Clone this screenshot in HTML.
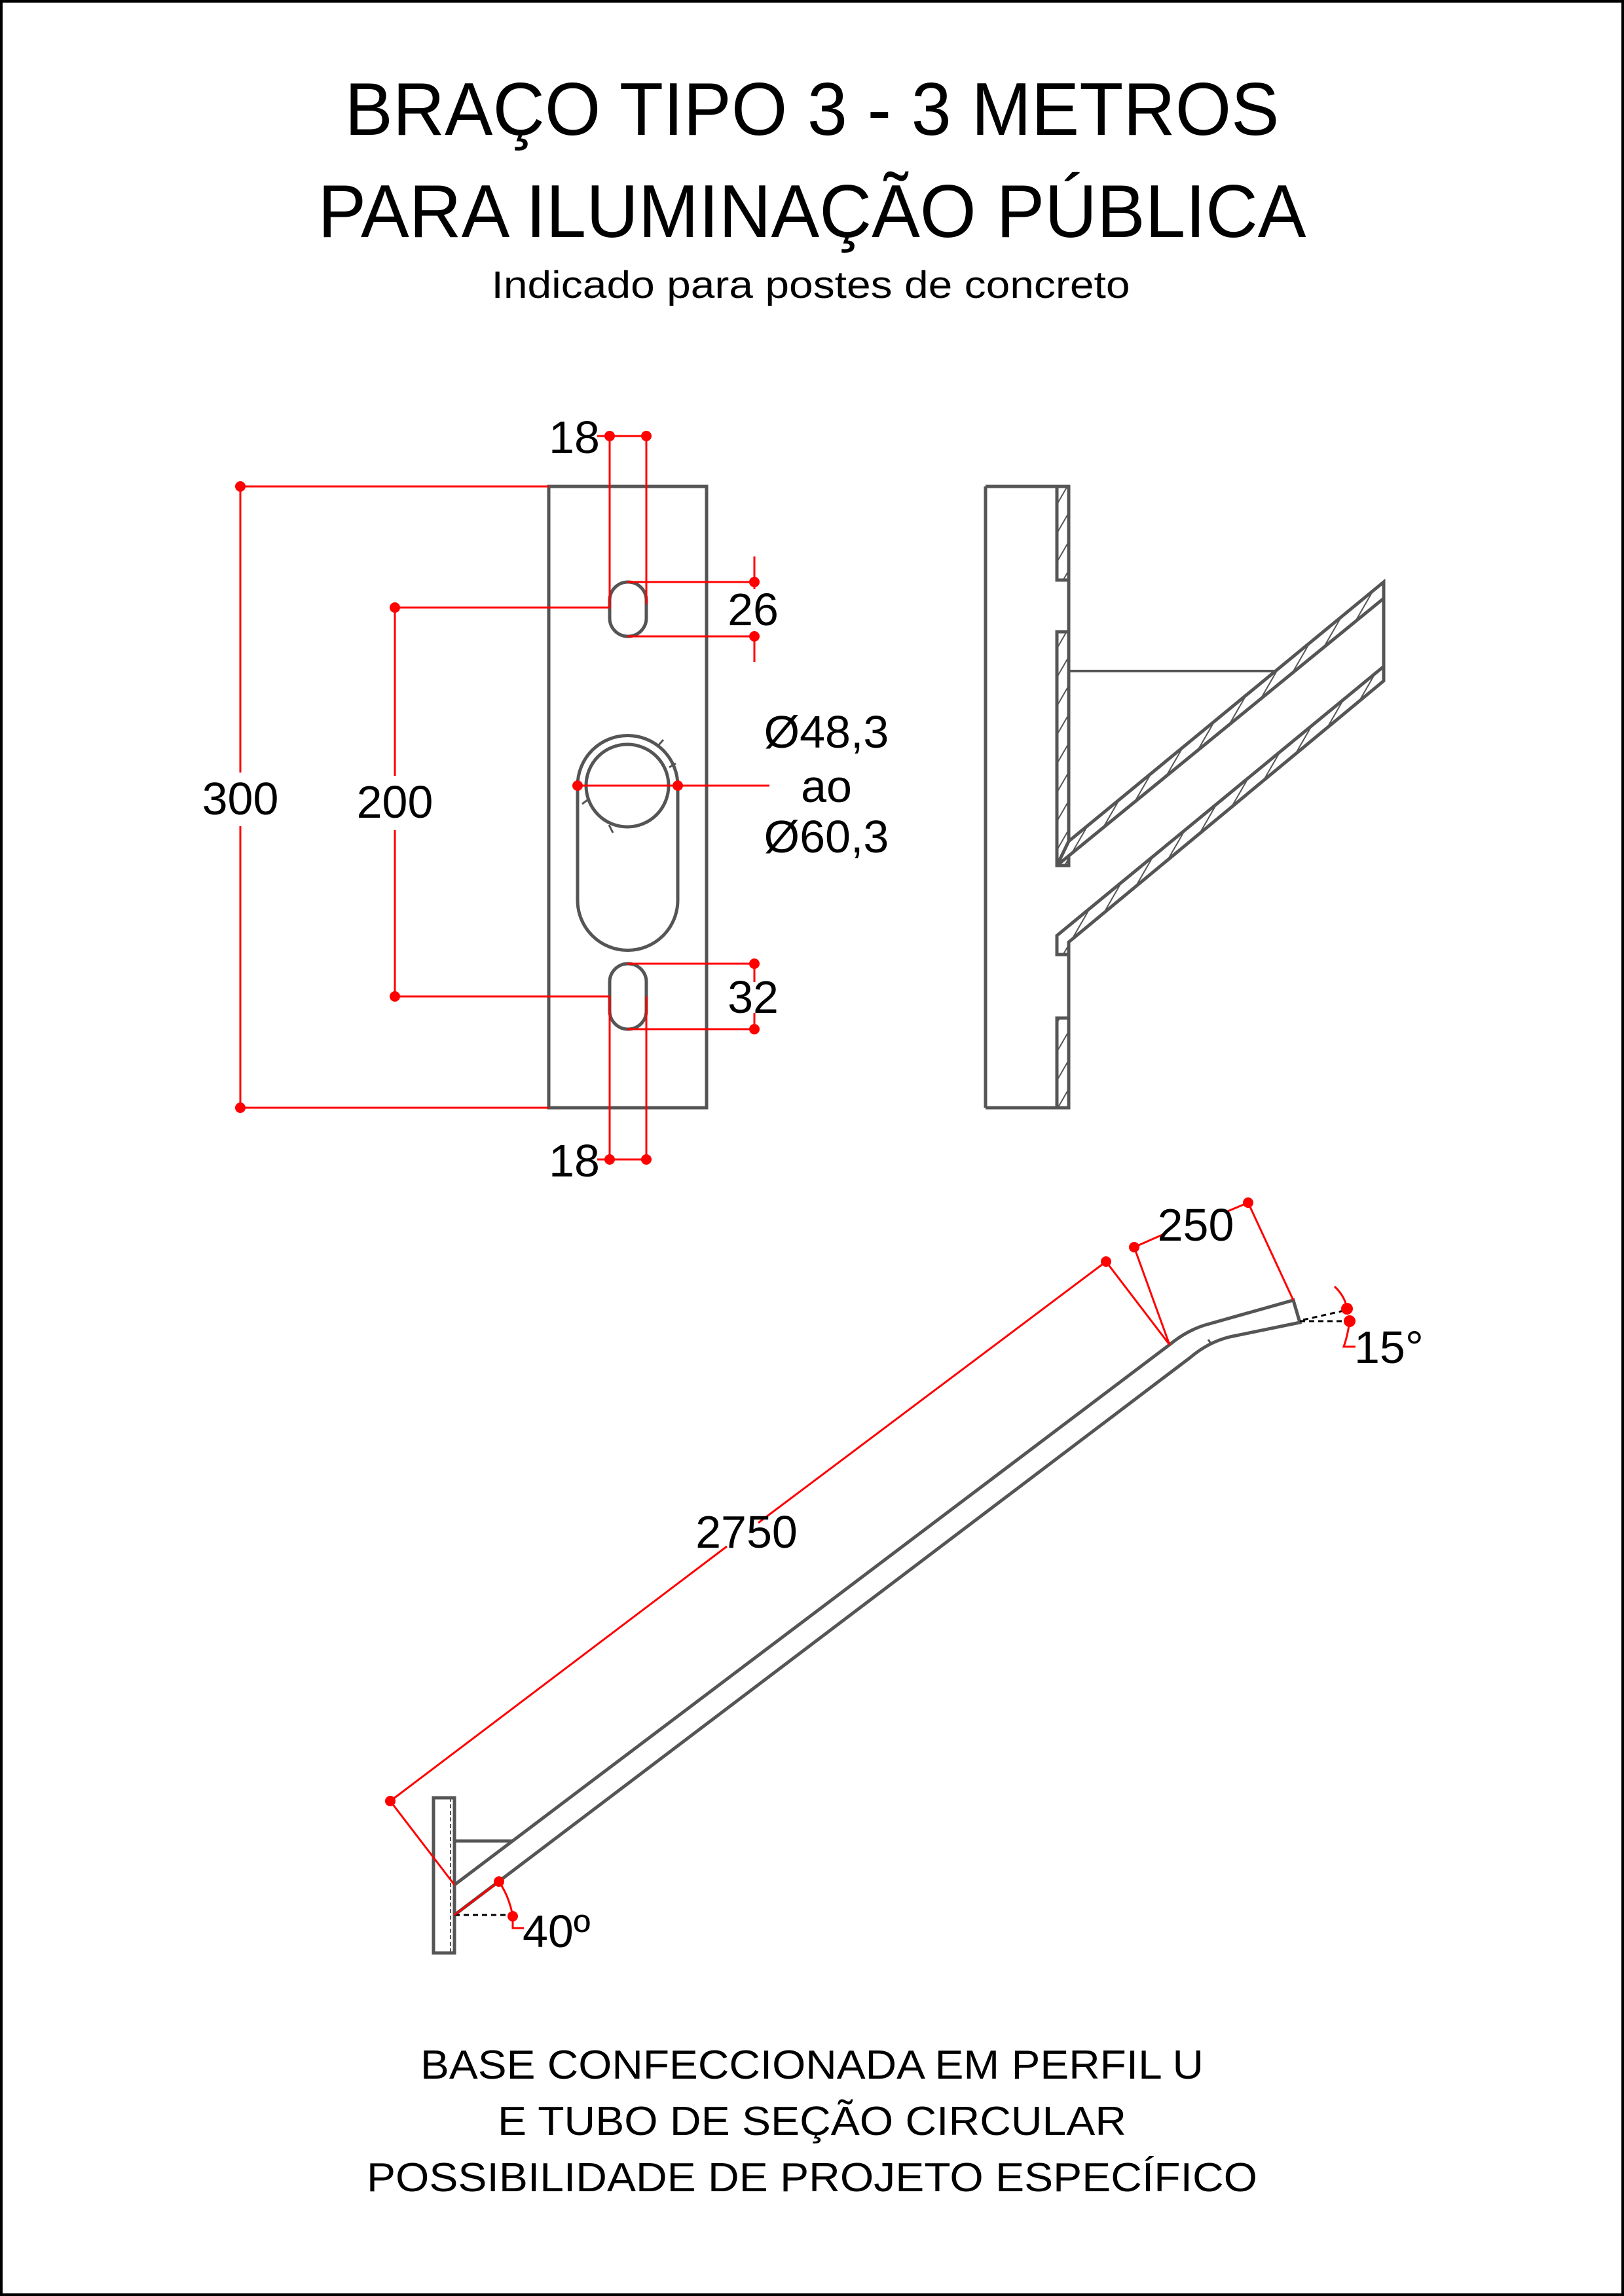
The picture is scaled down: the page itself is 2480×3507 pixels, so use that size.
<!DOCTYPE html>
<html><head><meta charset="utf-8"><style>
html,body{margin:0;padding:0;background:#fff}
svg{display:block}
text{font-family:"Liberation Sans",Arial,sans-serif;fill:#000}
</style></head><body>
<svg width="2480" height="3507" viewBox="0 0 2480 3507" xmlns="http://www.w3.org/2000/svg">
<defs>
<pattern id="h" patternUnits="userSpaceOnUse" width="22" height="22" patternTransform="rotate(30)">
<rect width="22" height="22" fill="#fff"/>
<line x1="0" y1="0" x2="0" y2="22" stroke="#555" stroke-width="4"/>
</pattern>
</defs>
<rect x="2" y="2" width="2476" height="3503" fill="none" stroke="#000" stroke-width="4"/>

<text x="1240" y="206" font-size="114" text-anchor="middle" textLength="1427" lengthAdjust="spacingAndGlyphs">BRAÇO TIPO 3 - 3 METROS</text>
<text x="1240" y="362" font-size="114" text-anchor="middle" textLength="1509" lengthAdjust="spacingAndGlyphs">PARA ILUMINAÇÃO PÚBLICA</text>
<text x="1238" y="455" font-size="58" text-anchor="middle" textLength="975" lengthAdjust="spacingAndGlyphs">Indicado para postes de concreto</text>

<!-- FRONT VIEW -->
<g fill="none" stroke="#555" stroke-width="5">
<rect x="838" y="743" width="241" height="949"/>
<rect x="931" y="889" width="56" height="83" rx="28"/>
<rect x="931" y="1472" width="56" height="100" rx="28"/>
<path d="M882,1200 A76.5,76.5 0 0 1 1035,1200 L1035,1375 A76.5,76.5 0 0 1 882,1375 Z"/>
<circle cx="958" cy="1200" r="63"/>
<line x1="1004" y1="1140" x2="1013" y2="1130" stroke-width="3"/>
<line x1="1022" y1="1172" x2="1032" y2="1166" stroke-width="3"/>
<line x1="930" y1="1260" x2="936" y2="1272" stroke-width="3"/>
<line x1="889" y1="1228" x2="897" y2="1222" stroke-width="3"/>
</g>
<g stroke="#f00" stroke-width="3" fill="none">
<path d="M367,743 H838 M367,1692 H838 M367,743 V1180 M367,1262 V1692"/>
<path d="M603,928 H931 M603,1522 H931 M603,928 V1185 M603,1268 V1522"/>
<path d="M931,666 V928 M987,666 V923 M931,666 H987 M912,666 H931"/>
<path d="M931,1522 V1771 M987,1522 V1771 M931,1771 H987 M912,1771 H931"/>
<path d="M958,889 H1152 M958,972 H1152 M1152,850 V900 M1152,965 V1011"/>
<path d="M958,1472 H1152 M958,1572 H1152 M1152,1472 V1500 M1152,1547 V1572"/>
<path d="M882,1200 H1175"/>
</g>
<g fill="#f00">
<circle cx="367" cy="743" r="8"/><circle cx="367" cy="1692" r="8"/>
<circle cx="603" cy="928" r="8"/><circle cx="603" cy="1522" r="8"/>
<circle cx="931" cy="666" r="8"/><circle cx="987" cy="666" r="8"/>
<circle cx="931" cy="1771" r="8"/><circle cx="987" cy="1771" r="8"/>
<circle cx="1152" cy="889" r="8"/><circle cx="1152" cy="972" r="8"/>
<circle cx="1152" cy="1472" r="8"/><circle cx="1152" cy="1572" r="8"/>
<circle cx="882" cy="1200" r="8"/><circle cx="1035" cy="1200" r="8"/>
</g>
<g font-size="70" text-anchor="middle">
<text x="367" y="1244">300</text>
<text x="603" y="1249">200</text>
<text x="877" y="692">18</text>
<text x="877" y="1797">18</text>
<text x="1150" y="955">26</text>
<text x="1150" y="1547">32</text>
<text x="1262" y="1142">Ø48,3</text>
<text x="1262" y="1225">ao</text>
<text x="1262" y="1302">Ø60,3</text>
</g>

<!-- SIDE VIEW -->
<g stroke="#555" stroke-width="5" stroke-linejoin="miter">
<rect x="1614" y="743" width="18" height="143" fill="url(#h)"/>
<rect x="1614" y="965" width="18" height="357" fill="url(#h)"/>
<rect x="1614" y="1555" width="18" height="137" fill="url(#h)"/>
<polygon points="1632,1285 2113,889 2113,914 1614,1322" fill="url(#h)"/>
<polygon points="1614,1429 2113,1018 2113,1040 1632,1439 1632,1458 1614,1458" fill="url(#h)"/>
<g fill="none">
<path d="M1505,743 H1632 M1505,1692 H1632 M1505,743 V1692"/>
<path d="M1632,743 V1285 M1632,1439 V1692"/>
<path d="M2113,889 V1040"/>
<path d="M1632,1025 H1948" stroke-width="4"/>
</g>
</g>

<!-- BOTTOM VIEW -->
<g fill="none" stroke="#555" stroke-width="5">
<rect x="662" y="2746" width="32" height="237"/>
<line x1="688" y1="2746" x2="688" y2="2983" stroke-width="2" stroke-dasharray="6,4"/>
<path d="M694,2812 H783"/>
<path d="M694,2879 L1786,2054 Q1815,2030 1847,2022 L1975,1986 L1985,2020 L1878,2042 Q1845,2050 1817,2074 L694,2925"/>
<path d="M1845,2046 l4,6" stroke-width="3"/>
</g>
<g fill="none" stroke="#000" stroke-width="3" stroke-dasharray="8,6">
<path d="M694,2925 H783"/>
<path d="M1985,2018 H2055 M1990,2016 L2052,2002"/>
</g>
<g stroke="#f00" stroke-width="3" fill="none">
<path d="M596,2751 L694,2879 M596,2751 L1110,2362 M1158,2326 L1689,1927 L1786,2054"/>
<path d="M1732,1905 L1786,2054 M1732,1905 L1775,1886 M1875,1850 L1906,1837 L1975,1986"/>
<path d="M694,2925 L762,2874 M762,2874 Q778,2898 783,2927 L783,2945 H800"/>
<path d="M2038,1965 Q2054,1980 2057,1999 M2061,2018 Q2058,2040 2052,2057 H2070"/>
</g>
<g fill="#f00">
<circle cx="596" cy="2751" r="8"/><circle cx="1689" cy="1927" r="8"/>
<circle cx="1732" cy="1905" r="8"/><circle cx="1906" cy="1837" r="8"/>
<circle cx="762" cy="2874" r="8"/><circle cx="783" cy="2927" r="8"/>
<circle cx="2057" cy="1999" r="9"/><circle cx="2061" cy="2018" r="9"/>
</g>
<g font-size="70">
<text x="1140" y="2364" text-anchor="middle">2750</text>
<text x="1826" y="1895" text-anchor="middle">250</text>
<text x="2068" y="2082">15°</text>
<text x="798" y="2974">40º</text>
</g>

<g font-size="62" text-anchor="middle">
<text x="1240" y="3175" textLength="1196" lengthAdjust="spacingAndGlyphs">BASE CONFECCIONADA EM PERFIL U</text>
<text x="1240" y="3261" textLength="960" lengthAdjust="spacingAndGlyphs">E TUBO DE SEÇÃO CIRCULAR</text>
<text x="1240" y="3347" textLength="1360" lengthAdjust="spacingAndGlyphs">POSSIBILIDADE DE PROJETO ESPECÍFICO</text>
</g>
</svg>
</body></html>
